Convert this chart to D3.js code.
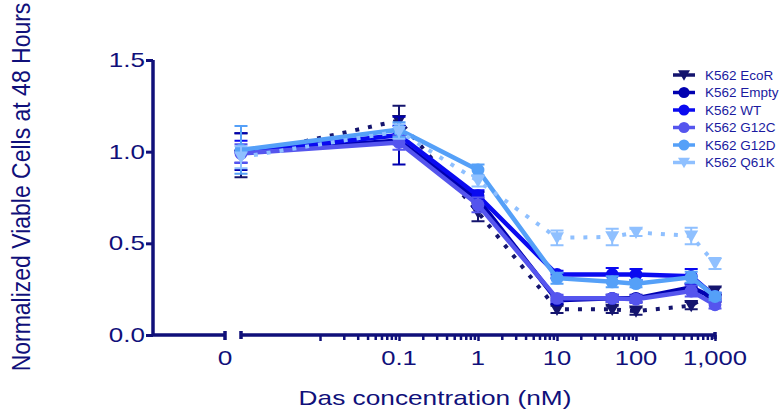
<!DOCTYPE html>
<html>
<head>
<meta charset="utf-8">
<script src="https://cdn.jsdelivr.net/npm/d3@7"></script>
<style>
  html, body { margin: 0; padding: 0; background: #fff; }
  svg { display: block; font-family: "Liberation Sans", Arial, sans-serif; }
</style>
</head>
<body>
<svg id="chart" width="784" height="415"></svg>
<script>
// Dasatinib dose (nM); the untreated control sits at the start of the log segment
const doses = [0.001, 0.1, 1, 10, 50, 100, 500, 1000];

const seriesNames = ["K562 EcoR", "K562 Empty", "K562 WT", "K562 G12C", "K562 G12D", "K562 Q61K"];

const ecorMean  = [0.98, 1.17, 0.67, 0.14, 0.14, 0.13, 0.16, 0.24];
const ecorErr   = [0.12, 0.08, 0.05, 0.02, 0.02, 0.02, 0.02, 0.02];
const emptyMean = [1.00, 1.06, 0.74, 0.19, 0.20, 0.20, 0.26, 0.20];
const emptyErr  = [0.10, 0.13, 0.04, 0.02, 0.02, 0.02, 0.02, 0.02];
const wtMean    = [1.00, 1.09, 0.76, 0.33, 0.33, 0.33, 0.32, 0.21];
const wtErr     = [0.06, 0.05, 0.03, 0.02, 0.035, 0.03, 0.04, 0.02];
const g12cMean  = [0.99, 1.05, 0.71, 0.20, 0.20, 0.195, 0.24, 0.165];
const g12cErr   = [0.05, 0.04, 0.04, 0.02, 0.02, 0.02, 0.03, 0.02];
const g12dMean  = [1.01, 1.12, 0.90, 0.31, 0.29, 0.28, 0.315, 0.21];
const g12dErr   = [0.13, 0.04, 0.03, 0.03, 0.03, 0.02, 0.03, 0.02];
const q61kMean  = [0.97, 1.11, 0.84, 0.53, 0.535, 0.56, 0.54, 0.39];
const q61kErr   = [0.06, 0.04, 0.03, 0.04, 0.045, 0.02, 0.045, 0.03];

const yTicks = [0.0, 0.5, 1.0, 1.5];
const xTicks = [0.1, 1, 10, 100, 1000];
const xTickLabels = ["0.1", "1", "10", "100", "1,000"];

const series = [
  { name: seriesNames[0], mean: ecorMean,  err: ecorErr,  color: "#14146e", dotted: true,  shape: "tri" },
  { name: seriesNames[1], mean: emptyMean, err: emptyErr, color: "#0000b0", dotted: false, shape: "circle" },
  { name: seriesNames[2], mean: wtMean,    err: wtErr,    color: "#0a0af0", dotted: false, shape: "circle" },
  { name: seriesNames[3], mean: g12cMean,  err: g12cErr,  color: "#5555ee", dotted: false, shape: "circle" },
  { name: seriesNames[4], mean: g12dMean,  err: g12dErr,  color: "#55a0f8", dotted: false, shape: "circle" },
  { name: seriesNames[5], mean: q61kMean,  err: q61kErr,  color: "#8fc0ff", dotted: true,  shape: "tri" }
];

const axisColor = "#10107a";
const svg = d3.select("#chart");

// Text drawn with a wide aspect (horizontal stretch)
function wideText(parent, tx, ty, str, size, sx, anchor, fill) {
  return parent.append("text")
    .attr("transform", `translate(${tx},${ty}) scale(${sx},1)`)
    .attr("text-anchor", anchor).attr("font-size", size)
    .attr("fill", fill || axisColor).text(str);
}

// Scales
const x = d3.scaleLog().domain([0.001, 1000]).range([241, 715]);
const y = d3.scaleLinear().domain([0, 1.5]).range([335, 60]);
const x0 = 225;   // position of the "0" label on the broken-axis stub
const yAxisX = 153;

// Y axis
const yAxis = d3.axisLeft(y).tickValues(yTicks).tickFormat("").tickSize(7);
const gy = svg.append("g").attr("transform", `translate(${yAxisX},0)`).call(yAxis);
gy.select(".domain").attr("stroke", axisColor).attr("stroke-width", 3.5).attr("d", `M0,${y(1.5)}V${y(0)}`);
gy.selectAll(".tick line").attr("stroke", axisColor).attr("stroke-width", 3);
yTicks.forEach(t => wideText(svg, 145, y(t) + 7, d3.format(".1f")(t), 20, 1.3, "end"));

// X axis: stub for zero dose, then log segment
const axisY = y(0);
svg.append("path")
  .attr("d", `M${yAxisX},${axisY}H${x0}M${x0},${axisY - 4}V${axisY + 5}`)
  .attr("stroke", axisColor).attr("stroke-width", 3.5).attr("fill", "none");
wideText(svg, x0, 365, "0", 21, 1.25, "middle");

const minorTicks = [];
for (let e = -2; e <= 2; e++) {
  for (let m = 1; m <= 9; m++) minorTicks.push(m * Math.pow(10, e));
}
minorTicks.push(1000);
const gx = svg.append("g").attr("transform", `translate(0,${axisY})`)
  .call(d3.axisBottom(x).tickValues(minorTicks).tickFormat("").tickSizeInner(4).tickSizeOuter(0));
gx.select(".domain").attr("stroke", axisColor).attr("stroke-width", 3.5)
  .attr("d", `M${x.range()[0]},-4V4M${x.range()[0]},0H${x.range()[1]}M${x.range()[1]},-3V4`);
gx.selectAll(".tick line").attr("stroke", axisColor).attr("stroke-width", 2.5)
  .attr("y2", d => (Math.abs(Math.log10(d) - Math.round(Math.log10(d))) < 1e-9 ? 6 : 5));

xTicks.forEach((t, i) => wideText(svg, x(t), 365, xTickLabels[i], 21, 1.22, "middle"));

// Axis titles
svg.append("text").attr("transform", "translate(30,187) rotate(-90) scale(1,1.1)")
  .attr("text-anchor", "middle").attr("fill", axisColor).attr("font-size", 23)
  .text("Normalized Viable Cells at 48 Hours");
wideText(svg, 435, 405, "Das concentration (nM)", 21, 1.25, "middle");

// Markers
const triPath = r => `M${-r},${-r * 0.8}L${r},${-r * 0.8}L0,${r * 0.95}Z`;
function drawMarker(g, s, cx, cy, r) {
  if (s.shape === "tri") {
    g.append("path").attr("d", triPath(r)).attr("transform", `translate(${cx},${cy})`).attr("fill", s.color);
  } else {
    g.append("circle").attr("cx", cx).attr("cy", cy).attr("r", r * 0.92).attr("fill", s.color);
  }
}

const line = d3.line().x(d => x(d.dose)).y(d => y(d.v));
const plot = svg.append("g");

series.forEach(s => {
  const pts = doses.map((dose, i) => ({ dose, v: s.mean[i], e: s.err[i] }));
  const g = plot.append("g");
  // error bars
  pts.forEach(p => {
    const px = x(p.dose), top = y(p.v + p.e), bot = y(p.v - p.e);
    g.append("path")
      .attr("d", `M${px},${top}V${bot}M${px - 6.5},${top}H${px + 6.5}M${px - 6.5},${bot}H${px + 6.5}`)
      .attr("stroke", s.color).attr("stroke-width", 2).attr("fill", "none");
  });
  g.append("path").datum(pts).attr("d", line)
    .attr("fill", "none").attr("stroke", s.color)
    .attr("stroke-width", s.dotted ? 4 : 4.5)
    .attr("stroke-dasharray", s.dotted ? "4,9" : null);
  pts.forEach(p => drawMarker(g, s, x(p.dose), y(p.v), 7));
});

// Legend
const legend = svg.append("g");
series.forEach((s, i) => {
  const ly = 75 + i * 17.5;
  legend.append("line").attr("x1", 673).attr("x2", 695).attr("y1", ly).attr("y2", ly)
    .attr("stroke", s.color).attr("stroke-width", 3.5);
  drawMarker(legend, s, 684, ly, 6);
  wideText(legend, 705, ly + 4.5, s.name, 12.5, 1.08, "start", "#1a1aa0");
});
</script>
</body>
</html>
